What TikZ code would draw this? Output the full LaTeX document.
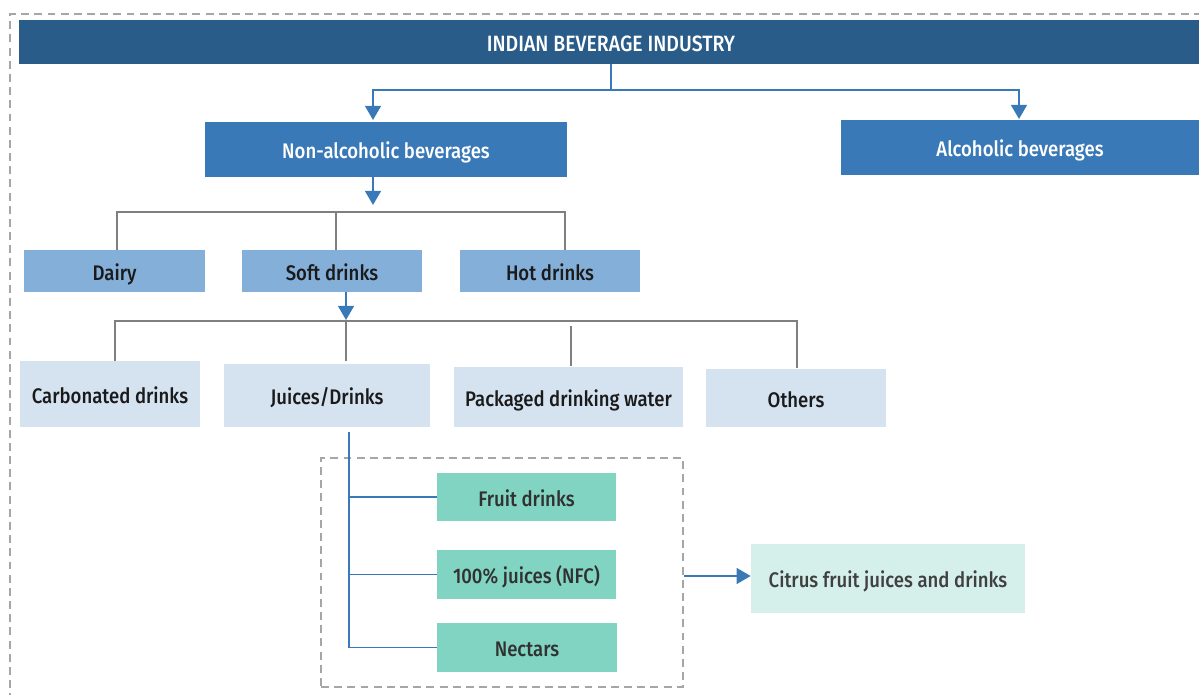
\documentclass[tikz,border=0pt]{standalone}
\usepackage{fontspec}
\setmainfont{Fira Sans}[UprightFont=* Medium, FakeStretch=0.88]
\usetikzlibrary{arrows.meta}
\definecolor{barblue}{HTML}{2A5C8A}
\definecolor{midblue}{HTML}{3A79B7}
\definecolor{lightblue}{HTML}{84AFD9}
\definecolor{paleblue}{HTML}{D5E3F1}
\definecolor{teal}{HTML}{81D4C2}
\definecolor{mint}{HTML}{D5F0EA}
\definecolor{linegray}{HTML}{7F7F7F}
\definecolor{dashgray}{HTML}{A6A6A6}
\definecolor{darktext}{HTML}{1A1A1A}
\tikzset{
  box/.style={rectangle, inner sep=0pt, text height=10.5pt, text depth=0pt,
    font=\fontsize{12}{14}\selectfont},
  topbox/.style={box, fill=barblue, text=white, font=\fontsize{12.6}{14}\selectfont},
  catbox/.style={box, fill=midblue, text=white},
  subbox/.style={box, fill=lightblue, text=darktext},
  typebox/.style={box, fill=paleblue, text=darktext},
  juicebox/.style={box, fill=teal, text=darktext!90},
  citbox/.style={box, fill=mint, text=black!75},
  bl/.style={draw=midblue, line width=1.1pt},
  gl/.style={draw=linegray, line width=1pt},
  tip/.style={-{Triangle[width=9pt,length=8pt]}},
  dashframe/.style={draw=dashgray, line width=1pt, dash pattern=on 4.5pt off 3pt}
}
\begin{document}
\begin{tikzpicture}[x=0.02cm,y=-0.02cm]
\useasboundingbox (0,0) rectangle (1199,695);
\clip (0,0) rectangle (1199,695);

% outer frame (runs past the page edge on right and bottom)
\draw[dashframe] (1215,14) -- (10,14) -- (10,710);

% boxes
\node[topbox, minimum width=23.68cm, minimum height=0.88cm] (title) at (611,42) {INDIAN BEVERAGE INDUSTRY};
\node[catbox, minimum width=7.24cm, minimum height=1.1cm] (nonalc) at (386,149.5) {Non-alcoholic beverages};
\node[catbox, minimum width=7.18cm, minimum height=1.1cm] (alc) at (1020,147.5) {Alcoholic beverages};

\node[subbox, minimum width=3.62cm, minimum height=0.84cm] (dairy) at (114.5,271) {Dairy};
\node[subbox, minimum width=3.6cm, minimum height=0.84cm] (soft) at (332,271) {Soft drinks};
\node[subbox, minimum width=3.6cm, minimum height=0.84cm] (hot) at (550,271) {Hot drinks};

\node[typebox, minimum width=3.6cm, minimum height=1.32cm] (carb) at (110,394) {Carbonated drinks};
\node[typebox, minimum width=4.12cm, minimum height=1.26cm] (juices) at (327,395.5) {Juices/Drinks};
\node[typebox, minimum width=4.58cm, minimum height=1.2cm] (water) at (568.5,397) {Packaged drinking water};
\node[typebox, minimum width=3.6cm, minimum height=1.16cm] (others) at (796,398) {Others};

\node[dashframe, rectangle, minimum width=7.24cm, minimum height=4.58cm] (group) at (502,572.5) {};
\node[juicebox, minimum width=3.58cm, minimum height=0.96cm] (fruit) at (526.5,497) {Fruit drinks};
\node[juicebox, minimum width=3.58cm, minimum height=0.98cm] (nfc) at (526.5,574.5) {100\% juices (NFC)};
\node[juicebox, minimum width=3.6cm, minimum height=0.98cm] (nectars) at (527,647.5) {Nectars};

\node[citbox, minimum width=5.48cm, minimum height=1.38cm] (citrus) at (888,578.5) {Citrus fruit juices and drinks};

% attachment points
\coordinate (hub1) at (611,90);
\coordinate (naIn) at (373,120);
\coordinate (alcIn) at (1019,119);
\coordinate (naTip) at (373,205);
\coordinate (bar1) at (0,212);
\coordinate (dIn) at (117,250);
\coordinate (sIn) at (336,250);
\coordinate (hIn) at (565,250);
\coordinate (sTip) at (346,320);
\coordinate (bar2) at (0,321);
\coordinate (cIn) at (115,361);
\coordinate (jIn) at (346,361);
\coordinate (pTop) at (571,326);
\coordinate (pIn) at (571,366);
\coordinate (oIn) at (797,368);
\coordinate (jOut) at (349,432);
\coordinate (arrY) at (0,576);

% top level
\draw[bl] (title.south) -- (hub1);
\draw[bl,tip] (hub1) -| (naIn);
\draw[bl,tip] (hub1) -| (alcIn);

% second level
\draw[bl,tip] (nonalc.south -| naTip) -- (naTip);
\draw[gl] (dIn) -- (dIn |- bar1) -- (hIn |- bar1) -- (hIn);
\draw[gl] (sIn) -- (sIn |- bar1);

% third level
\draw[bl,tip] (soft.south -| sTip) -- (sTip);
\draw[gl] (cIn) -- (cIn |- bar2) -- (oIn |- bar2) -- (oIn);
\draw[gl] (jIn) -- (jIn |- bar2);
\draw[gl] (pTop) -- (pIn);

% juice types
\draw[bl] (jOut) |- (nectars.west);
\draw[bl] (fruit.west) -- (fruit.west -| jOut);
\draw[bl] (nfc.west) -- (nfc.west -| jOut);

% to citrus
\draw[bl,tip] (group.east |- arrY) -- (citrus.west |- arrY);
\end{tikzpicture}
\end{document}
